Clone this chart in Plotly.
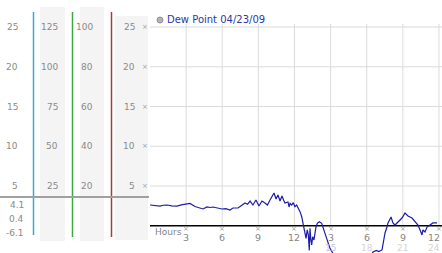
import plotly.graph_objects as go

W, H = 442, 253

# ---- data ----
hours = [0.00, 0.40, 0.83, 1.10, 1.41, 1.80, 2.24, 2.60, 2.91, 3.32, 3.74, 4.05, 4.40, 4.73, 5.00,
         5.23, 5.60, 5.98, 6.30, 6.64, 6.89, 7.31, 7.60, 7.89, 8.10, 8.31, 8.55, 8.80, 9.05, 9.30,
         9.55, 9.75, 9.97, 10.13, 10.30, 10.47, 10.63, 10.80, 10.96, 11.10, 11.21, 11.46, 11.55,
         11.63, 11.77, 11.90, 12.04, 12.18, 12.32, 12.46, 12.60, 12.74, 12.87, 12.96, 13.06, 13.15,
         13.23, 13.29, 13.35, 13.43, 13.51, 13.62, 13.70, 13.79, 13.90, 14.06, 14.26, 14.39, 14.53,
         14.68, 14.81, 14.95, 15.09, 15.22, 15.50, 16.00, 16.50, 17.00, 17.50, 18.00, 18.30, 18.52,
         18.80, 19.00, 19.27, 19.52, 19.68, 19.77, 20.02, 20.18, 20.35, 20.60, 20.93, 21.18, 21.43,
         21.76, 22.01, 22.26, 22.43, 22.59, 22.67, 22.84, 23.01, 23.26, 23.50, 23.84]
dew_point = [2.61, 2.55, 2.48, 2.58, 2.61, 2.50, 2.48, 2.62, 2.74, 2.80, 2.42, 2.30, 2.11, 2.36, 2.30,
             2.36, 2.20, 2.11, 2.15, 1.98, 2.23, 2.23, 2.55, 2.86, 2.70, 3.11, 2.61, 3.24, 2.48, 3.11,
             2.86, 2.60, 3.24, 3.74, 4.12, 3.36, 3.87, 3.11, 3.74, 3.20, 2.86, 2.99, 2.36,
             2.82, 2.61, 2.90, 2.40, 2.61, 2.19, 1.77, 1.14, 0.09, -0.75, -1.58, -0.53, -1.16,
             -3.10, -0.32, -1.58, -2.42, -1.38, -1.79, -0.95, -0.12, 0.31, 0.51, 0.31, -0.32, -1.16,
             -1.79, -2.21, -2.84, -3.26, -3.55, -4.20, -4.90, -5.60, -6.10, -5.70, -4.80, -3.90, -3.30,
             -3.10, -3.25, -3.04, -0.91, -0.16, 0.35, 1.10, 0.35, 0.09, 0.47, 0.97, 1.60, 1.23,
             0.97, 0.47, 0.09, -0.53, -1.16, -0.53, -0.79, -0.16, 0.09, 0.35, 0.35]

grid_values = [5, 10, 15, 20, 25]
grid_hours = [3, 6, 9, 12, 15, 18, 21, 24]
hour_labels_top = ["3", "6", "9", "12", "3", "6", "9", "12"]
hour_labels_bottom = ["15", "18", "21", "24"]
hour_labels_bottom_pos = [15, 18, 21, 24]

col1_labels = ["25", "20", "15", "10", "5"]
col2_labels = ["125", "100", "75", "50", "25"]
col3_labels = ["100", "80", "60", "40", "20"]
col4_labels = ["25", "20", "15", "10", "5"]
stat_labels = ["4.1", "0.4", "-6.1"]
title_text = "Dew Point 04/23/09"

# ---- geometry helpers (pixel -> paper) ----
def PX(px):
    return px / W

def PY(py):
    return 1 - py / H

Y0 = 225.75      # pixel of value 0
PPU = 7.95       # pixels per unit
y_top = Y0 / PPU
y_bot = -(H - Y0) / PPU

X0 = 150.0
PPH = 12.04

def val_to_py(v):
    return Y0 - v * PPU

FONT = "DejaVu Sans"
LBL = "#8a8a8a"

fig = go.Figure()
fig.add_trace(go.Scatter(x=hours, y=dew_point, mode="lines",
                         line=dict(color="#1c1ca8", width=1.2), hoverinfo="skip",
                         showlegend=False))

shapes = []
# left bands
for (x0, x1, y0, y1) in [(40, 65, 7, 241), (80, 104, 7, 241), (115, 148, 16, 240)]:
    shapes.append(dict(type="rect", xref="paper", yref="paper", x0=PX(x0), x1=PX(x1),
                       y0=PY(y1), y1=PY(y0), fillcolor="#f4f4f4", line=dict(width=0),
                       layer="below"))
# colored vertical lines
for (xx, yb, col) in [(33.5, 235, "#3aa8c8"), (72.5, 237, "#3aa83a"), (111.5, 237, "#a83a3a")]:
    shapes.append(dict(type="line", xref="paper", yref="paper", x0=PX(xx), x1=PX(xx),
                       y0=PY(yb), y1=PY(12), line=dict(color=col, width=1.5), layer="below"))
# gray horizontal line on left
shapes.append(dict(type="line", xref="paper", yref="paper", x0=0, x1=PX(149),
                   y0=PY(197), y1=PY(197), line=dict(color="#a0a0a0", width=2), layer="below"))
# gridlines
x_right = (W - X0) / PPH
for v in grid_values:
    shapes.append(dict(type="line", xref="x", yref="y", x0=0, x1=x_right, y0=v, y1=v,
                       line=dict(color="#dcdcdc", width=1), layer="below"))
grid_top = (Y0 - 24) / PPU
for h in grid_hours:
    shapes.append(dict(type="line", xref="x", yref="y", x0=h, x1=h, y0=0, y1=grid_top,
                       line=dict(color="#dcdcdc", width=1), layer="below"))
# axes lines
x_left = (149 - X0) / PPH
shapes.append(dict(type="line", xref="x", yref="y", x0=x_left, x1=x_left, y0=0,
                   y1=(Y0 - 13) / PPU, line=dict(color="#000000", width=2), layer="below"))
shapes.append(dict(type="line", xref="x", yref="y", x0=x_left, x1=x_right, y0=0, y1=0,
                   line=dict(color="#000000", width=1.5), layer="below"))
# legend circle
shapes.append(dict(type="circle", xref="paper", yref="paper", x0=PX(157), x1=PX(163),
                   y0=PY(23), y1=PY(17), fillcolor="#b4b4b4", line=dict(color="#909090", width=1)))

ann = []
def text(t, px, py, xa="right", size=9, color=LBL):
    ann.append(dict(text=t, x=PX(px), y=PY(py), xref="paper", yref="paper", xanchor=xa,
                    yanchor="middle", showarrow=False,
                    font=dict(family=FONT, size=size, color=color)))

for i, v in enumerate(grid_values[::-1]):
    py = val_to_py(v)
    text(col1_labels[i], 20, py)
    text(col2_labels[i], 60, py)
    text(col3_labels[i], 95, py)
    text(col4_labels[i], 137, py)
    text("×", 145, py, xa="center", size=7, color="#a0a0a0")
for lbl, py in zip(stat_labels, [205, 219, 233]):
    text(lbl, 26, py)

for h, lbl in zip(grid_hours, hour_labels_top):
    px = X0 + h * PPH
    text("×", px, 229, xa="center", size=7, color="#a0a0a0")
    if h == 24:
        text(lbl, 442, 237.5, xa="right", size=9.5, color="#858585")
    else:
        text(lbl, px, 237.5, xa="center", size=9.5, color="#858585")
for h, lbl in zip(hour_labels_bottom_pos, hour_labels_bottom):
    px = X0 + h * PPH
    col = "#c4c4dc" if h == 15 else "#d4d4d4"
    if h == 24:
        text(lbl, 442, 248, xa="right", size=9, color=col)
    else:
        text(lbl, px, 248, xa="center", size=9, color=col)
text("Hours", 153, 232, xa="left", size=9, color="#858585")
text(title_text, 165, 20, xa="left", size=10, color="#2a38a8")

fig.update_layout(
    width=W, height=H, margin=dict(l=0, r=0, t=0, b=0, pad=0),
    paper_bgcolor="white", plot_bgcolor="rgba(0,0,0,0)",
    xaxis=dict(domain=[PX(X0), 1], range=[0, (W - X0) / PPH], showgrid=False, zeroline=False,
               showticklabels=False, ticks="", showline=False, fixedrange=True),
    yaxis=dict(domain=[0, 1], range=[y_bot, y_top], showgrid=False, zeroline=False,
               showticklabels=False, ticks="", showline=False, fixedrange=True),
    shapes=shapes, annotations=ann, showlegend=False,
)

fig.write_html("out.html", config={"displayModeBar": False})
